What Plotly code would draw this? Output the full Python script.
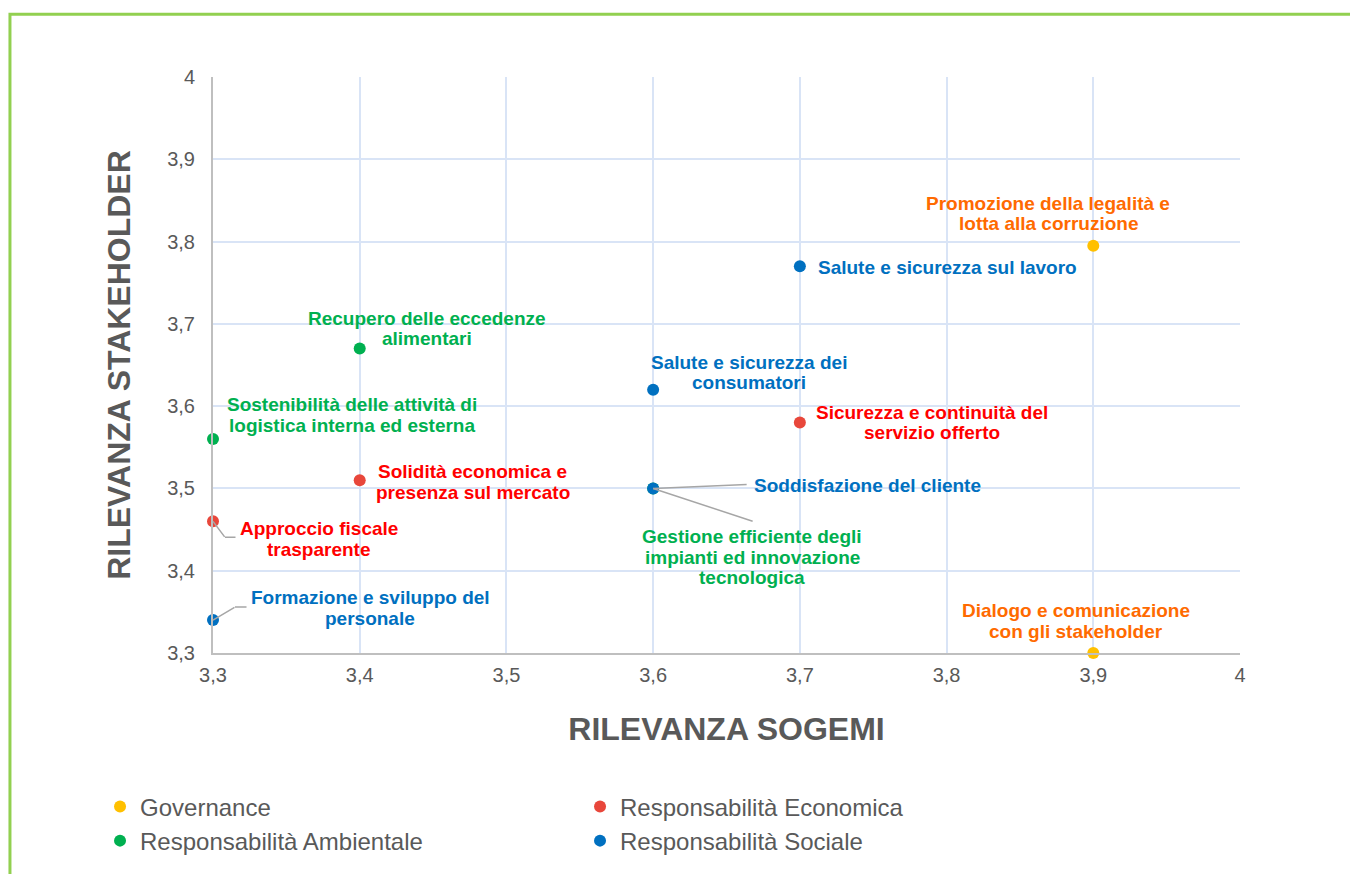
import plotly.graph_objects as go

# ---------------- data ----------------
series_names = ["Governance", "Responsabilità Economica",
                "Responsabilità Ambientale", "Responsabilità Sociale"]

gov_x = [3.9, 3.9]
gov_y = [3.795, 3.3]
gov_labels = [["Promozione della legalità e", "lotta alla corruzione"],
              ["Dialogo e comunicazione", "con gli stakeholder"]]

eco_x = [3.7, 3.4, 3.3]
eco_y = [3.58, 3.51, 3.46]
eco_labels = [["Sicurezza e continuità del", "servizio offerto"],
              ["Solidità economica e", "presenza sul mercato"],
              ["Approccio fiscale", "trasparente"]]

amb_x = [3.4, 3.3, 3.6]
amb_y = [3.67, 3.56, 3.5]
amb_labels = [["Recupero delle eccedenze", "alimentari"],
              ["Sostenibilità delle attività di", "logistica interna ed esterna"],
              ["Gestione efficiente degli", "impianti ed innovazione", "tecnologica"]]

soc_x = [3.7, 3.6, 3.6, 3.3]
soc_y = [3.77, 3.62, 3.5, 3.34]
soc_labels = [["Salute e sicurezza sul lavoro"],
              ["Salute e sicurezza dei", "consumatori"],
              ["Soddisfazione del cliente"],
              ["Formazione e sviluppo del", "personale"]]

tick_vals = [3.3, 3.4, 3.5, 3.6, 3.7, 3.8, 3.9, 4.0]
tick_text = ["3,3", "3,4", "3,5", "3,6", "3,7", "3,8", "3,9", "4"]

x_title = "RILEVANZA SOGEMI"
y_title = "RILEVANZA STAKEHOLDER"

# ---------------- styles ----------------
FONT = "Liberation Sans, Arial, sans-serif"
GRAY = "#595959"
LEADER = "#A6A6A6"
marker_colors = ["#FFC000", "#E8473B", "#00B050", "#0070C0"]
label_colors = ["#FF6A00", "#FF0000", "#00B050", "#0070C0"]
LINE_H = 20.5  # label line spacing in px

# label placement: (dx, dy) screen px of the text block centre from the point, anchor,
# leader polyline as list of screen-px vertices relative to the point (or None)
placement = {
    "gov": [(-45, -32, "center", None), (-17, -32, "center", None)],
    "eco": [(132, 0, "center", None), (113, 2, "center", None),
            (106, 17.5, "center", [(0, 0), (12, 16), (23, 16)])],
    "amb": [(67, -20, "center", None), (139, -24, "center", None),
            (99, 69, "center", [(0, 0), (100, 33)])],
    "soc": [(16, 1, "left", None), (96, -17, "center", None),
            (214, -3, "center", [(0, 0), (94, -4)]),
            (157, -12, "center", [(0, 0), (22, -13), (34, -13)])],
}

groups = [
    ("gov", gov_x, gov_y, gov_labels),
    ("eco", eco_x, eco_y, eco_labels),
    ("amb", amb_x, amb_y, amb_labels),
    ("soc", soc_x, soc_y, soc_labels),
]

fig = go.Figure()
annotations = []
for i, (key, xs, ys, labels) in enumerate(groups):
    fig.add_trace(go.Scatter(
        x=xs, y=ys, mode="markers", name=series_names[i],
        text=[" ".join(l) for l in labels], hoverinfo="text+x+y",
        marker=dict(color=marker_colors[i], size=12, line=dict(width=0)),
        cliponaxis=False,
    ))
    for (xv, yv, lines, (dx, dy, anchor, leader)) in zip(xs, ys, labels, placement[key]):
        # leader line segments (drawn as plain arrows without heads)
        if leader:
            for (p0, p1) in zip(leader[:-1], leader[1:]):
                annotations.append(dict(
                    x=xv, y=yv, xref="x", yref="y", text="", showarrow=True,
                    xshift=p0[0], yshift=-p0[1],
                    ax=p1[0] - p0[0], ay=p1[1] - p0[1],
                    arrowhead=0, arrowwidth=1.5, arrowcolor=LEADER,
                    standoff=0, startstandoff=0, borderpad=0,
                    font=dict(size=1)))
        n = len(lines)
        for k, line in enumerate(lines):
            off = dy + (k - (n - 1) / 2) * LINE_H
            annotations.append(dict(
                x=xv, y=yv, xref="x", yref="y", text=line, showarrow=False,
                xshift=dx, yshift=-off, xanchor=anchor, yanchor="middle",
                font=dict(family=FONT, size=19, color=label_colors[i], weight="bold")))

axis_common = dict(
    range=[3.3, 4.0], tickvals=tick_vals, ticktext=tick_text,
    showgrid=True, gridcolor="#D9E4F6", gridwidth=1.5,
    showline=True, linecolor="#BFBFBF", linewidth=2,
    zeroline=False, ticks="",
    tickfont=dict(family=FONT, size=20, color=GRAY),
)

fig.update_layout(
    width=1358, height=874,
    margin=dict(l=205, r=126, t=69, b=229),
    paper_bgcolor="white", plot_bgcolor="white",
    font=dict(family=FONT, color=GRAY),
    xaxis=dict(**axis_common, ticklabelstandoff=3,
               title=dict(text=x_title, standoff=33,
                          font=dict(family=FONT, size=32, color=GRAY, weight="bold"))),
    yaxis=dict(**axis_common, ticklabelstandoff=12,
               title=dict(text=y_title, standoff=27,
                          font=dict(family=FONT, size=32, color=GRAY, weight="bold"))),
    showlegend=True,
    legend=dict(
        orientation="h", x=-0.11, xanchor="left", y=-0.228, yanchor="top",
        entrywidth=435, entrywidthmode="pixels",
        font=dict(family=FONT, size=24, color=GRAY),
        itemwidth=30, bgcolor="rgba(0,0,0,0)",
    ),
    annotations=annotations,
    shapes=[dict(type="rect", xref="paper", yref="paper",
                 x0=-0.1977, x1=1.3, y0=-0.6, y1=1.109,
                 line=dict(color="#92D050", width=3), fillcolor="rgba(0,0,0,0)",
                 layer="below")],
)

fig.write_html("out.html")
